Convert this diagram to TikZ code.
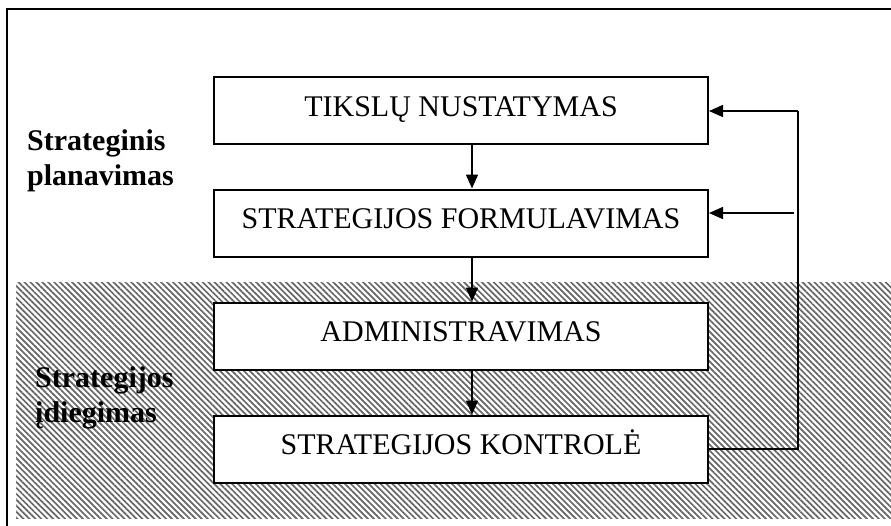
\documentclass[tikz,border=0pt]{standalone}
\usepackage{fontspec}
\setmainfont{Liberation Serif}
\usetikzlibrary{arrows.meta,patterns.meta}
\tikzset{
  stagebox/.style={draw, line width=2pt, fill=white, minimum width=494pt, minimum height=67pt,
    inner sep=0pt, text height=21pt, text depth=10pt, font=\fontsize{30}{35}\selectfont},
  phaselabel/.style={anchor=base west, align=left, inner sep=0pt, font=\fontsize{30}{35}\selectfont\bfseries},
  arr/.style={line width=1.5pt, -{Triangle[length=14pt,width=12pt]}},
  fb/.style={line width=1.5pt}
}
\begin{document}
\begin{tikzpicture}[x=1pt,y=-1pt]
\useasboundingbox (0,0) rectangle (891,525);
% outer frame
\draw[line width=1.6pt] (7,530) -- (7,9) -- (900,9);
% hatched area
\fill[pattern={Lines[angle=-45,distance=4.2pt,line width=1.7pt]}, pattern color=black!60] (16,282) rectangle (900,518);
% boxes
\node[stagebox] (b1) at (461,110.5) {TIKSLŲ NUSTATYMAS};
\node[stagebox] (b2) at (461,223) {STRATEGIJOS FORMULAVIMAS};
\node[stagebox] (b3) at (461,336) {ADMINISTRAVIMAS};
\node[stagebox] (b4) at (461,449) {STRATEGIJOS KONTROLĖ};
% labels
\node[phaselabel] (l1) at (27,185) {Strateginis\\planavimas};
\node[phaselabel] (l2) at (35,422) {Strategijos\\įdiegimas};
% down arrows
\coordinate (ax) at (472,0);
\draw[arr] (b1.south -| ax) -- (b2.north -| ax);
\draw[arr] (b2.south -| ax) -- (b3.north -| ax);
\draw[arr] (b3.south -| ax) -- (b4.north -| ax);
% feedback
\coordinate (fx) at (798,0);
\draw[fb] (b4.east) -- (b4.east -| fx) -- (798,111) coordinate (ft);
\draw[arr] (ft) -- (ft -| b1.east);
\coordinate (f2) at (794,213);
\draw[arr] (f2) -- (f2 -| b2.east);
\end{tikzpicture}
\end{document}
